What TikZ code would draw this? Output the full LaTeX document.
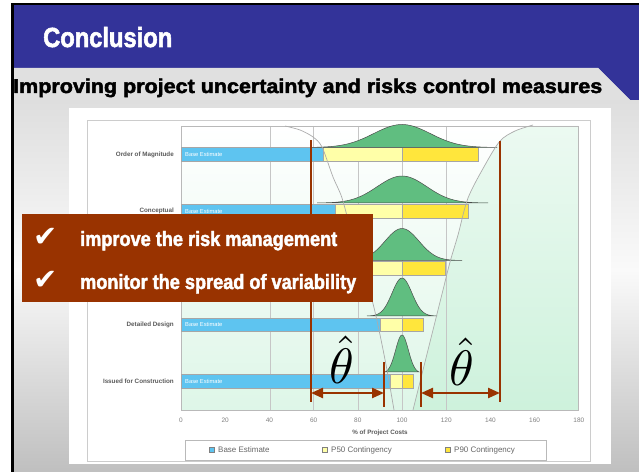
\documentclass[tikz,border=0pt]{standalone}
\usepackage{fontspec}
\setmainfont{Liberation Sans}
\newfontfamily\dejavu{DejaVu Sans}
\newfontfamily\heavy[BoldFeatures={FakeBold=2.2}]{Liberation Sans}
\usepackage{graphicx}
\usetikzlibrary{arrows.meta}
\definecolor{hdrblue}{RGB}{51,51,153}
\definecolor{rust}{RGB}{153,51,0}
\definecolor{barblue}{RGB}{94,196,240}
\definecolor{paley}{RGB}{255,255,168}
\definecolor{yel}{RGB}{255,230,60}
\definecolor{bellgreen}{RGB}{96,190,128}
\definecolor{mint}{RGB}{200,240,216}
\definecolor{lblgray}{RGB}{90,90,90}
\tikzset{
  bluebar/.style={fill=barblue, draw=gray!70, line width=0.4bp},
  p50bar/.style={fill=paley, draw=gray!70, line width=0.4bp},
  p90bar/.style={fill=yel, draw=gray!70, line width=0.4bp},
  bell/.style={fill=bellgreen, draw=gray!60!black, line width=0.5bp},
  funnel/.style={draw=gray!65, line width=0.7bp},
  gridln/.style={draw=gray!45, line width=0.5bp},
  catlbl/.style={anchor=east, inner sep=0, text=lblgray, font=\fontsize{6.3}{7}\selectfont\bfseries},
  barlbl/.style={anchor=west, inner sep=0, text=white, font=\fontsize{5.8}{7}\selectfont},
  ticklbl/.style={inner sep=0, text=gray, font=\fontsize{6.5}{7}\selectfont},
  leglbl/.style={anchor=west, inner sep=0, text=gray!80!black, font=\fontsize{8}{9}\selectfont},
  redln/.style={draw=rust, line width=2.3bp},
  redarrow/.style={draw=rust, line width=2.3bp, {Triangle[length=12bp,width=10bp]}-{Triangle[length=12bp,width=10bp]}},
  whitetxt/.style={anchor=base west, inner sep=0, text=white},
  checkmk/.style={text=white, inner sep=0, font=\dejavu\fontsize{29}{29}\selectfont},
}
\begin{document}
\begin{tikzpicture}[x=1bp,y=-1bp]
\useasboundingbox (0,0) rectangle (639,472);
% page background
\fill[white] (0,0) rectangle (639,472);
\shade[top color=gray!30, bottom color=gray!50, middle color=gray!4] (14,68) rectangle (639,472);
% header
\fill[hdrblue] (14,4) -- (639,4) -- (639,100) -- (630,100) -- (598,68) -- (14,68) -- cycle;
\fill[gray!24] (14,68) -- (598,68) -- (630,100) -- (14,100) -- cycle;
\draw[black, line width=3bp] (12.5,472) -- (12.5,4);
\draw[black, line width=2bp] (11,4) -- (639,4);
\node[whitetxt] (title) at (43,47) {\resizebox{129bp}{20bp}{\heavy\bfseries Conclusion}};
\node[anchor=base west, inner sep=0] (sub) at (13,93) {\resizebox{589bp}{14.5bp}{\heavy\bfseries Improving project uncertainty and risks control measures}};
% chart image
\fill[white] (69,108) rectangle (611,464);
\draw[gray!40, line width=0.8bp] (87,120) rectangle (590,461);
% plot area
\shade[top color=white, bottom color=mint!60] (181,126) rectangle (578,410);
\shade[top color=mint!35, bottom color=mint!90]
  plot[smooth] coordinates {(530,126) (515,131) (500,141) (485,165) (468,198) (458,235) (450,262) (443,290) (433,330) (423,370) (413,410)}
  -- (578,410) -- (578,126) -- cycle;
\foreach \gx in {270,313,358,402,446} \draw[gridln] (\gx,126) -- (\gx,410);
\draw[gray!55, line width=0.6bp] (181,126) rectangle (578,410);
% bars
\foreach \yc/\xb/\xe in {154.5/323/478, 211/335/468, 268/355/445, 324.5/380/423, 381/390/413} {
  \draw[bluebar] (181,\yc-6.8) rectangle (\xb,\yc+6.8);
  \draw[p50bar] (\xb,\yc-6.8) rectangle (402,\yc+6.8);
  \draw[p90bar] (402,\yc-6.8) rectangle (\xe,\yc+6.8);
}
\node[barlbl] (b1) at (185,154.5) {Base Estimate};
\node[barlbl] (b2) at (185,211) {Base Estimate};
\node[barlbl] (b4) at (185,324.5) {Base Estimate};
\node[barlbl] (b5) at (185,381) {Base Estimate};
% distributions
\draw[bell] plot[domain=-92:95, samples=70] ({402+\x},{147.5-23*exp(-(\x/40)^2)}) -- cycle;
\draw[bell] plot[domain=-85:86, samples=70] ({402+\x},{203-27*exp(-(\x/35)^2)}) -- cycle;
\draw[bell] plot[domain=-60:60, samples=60] ({402+\x},{260.5-32*exp(-(\x/24)^2)}) -- cycle;
\draw[bell] plot[domain=-35:35, samples=60] ({402+\x},{316-38*exp(-(\x/14)^2)}) -- cycle;
\draw[bell] plot[domain=-17:17, samples=50] ({402+\x},{373-38*exp(-(\x/9)^2)}) -- cycle;
% funnel
\draw[funnel] plot[smooth] coordinates {(285,126) (300,130) (313,137) (322,147) (333,177) (342,198) (352,235) (362,270) (372,300) (379,330) (387,370) (394,410)};
\draw[funnel] plot[smooth] coordinates {(533,125) (515,131) (500,141) (485,165) (468,198) (458,235) (450,262) (443,290) (433,330) (423,370) (413,410)};
% categories
\node[catlbl] (c1) at (174,154.5) {Order of Magnitude};
\node[catlbl] (c2) at (174,211) {Conceptual};
\node[catlbl] (c4) at (174,324.5) {Detailed Design};
\node[catlbl] (c5) at (174,381) {Issued for Construction};
% axis labels
\foreach \v in {0,20,...,180} \node[ticklbl] (t\v) at ({181+2.21*\v},420) {\v};
\node[ticklbl, text=lblgray, font=\fontsize{6.3}{7}\selectfont\bfseries] (xl) at (380,433) {\% of Project Costs};
% legend
\draw[gray!55, line width=0.6bp] (185,440) rectangle (546,460);
\draw[fill=barblue, draw=gray] (209.5,447.5) rectangle (214.5,452.5);
\node[leglbl] (lg1) at (218,450) {Base Estimate};
\draw[fill=paley, draw=gray] (322.5,447.5) rectangle (327.5,452.5);
\node[leglbl] (lg2) at (331,450) {P50 Contingency};
\draw[fill=yel, draw=gray] (445.5,447.5) rectangle (450.5,452.5);
\node[leglbl] (lg3) at (454,450) {P90 Contingency};
% red annotations
\coordinate (la) at (311,140); \coordinate (lb) at (311,402);
\coordinate (ra) at (500,141); \coordinate (rb) at (500,402);
\coordinate (ma) at (384,362); \coordinate (mb) at (384,407);
\coordinate (na) at (421,362); \coordinate (nb) at (421,407);
\coordinate (a1) at (311,393); \coordinate (a2) at (384,393);
\coordinate (a3) at (421,393); \coordinate (a4) at (500,393);
\draw[redln] (la) -- (lb);
\draw[redln] (ra) -- (rb);
\draw[redln] (ma) -- (mb);
\draw[redln] (na) -- (nb);
\draw[redarrow] (a1) -- (a2);
\draw[redarrow] (a3) -- (a4);
\node[inner sep=0] (th1) at (342,360) {\scalebox{5}{$\hat{\theta}$}};
\node[inner sep=0] (th2) at (462,362) {\scalebox{5}{$\hat{\theta}$}};
% text box
\node[fill=rust, anchor=north west, minimum width=351bp, minimum height=88bp, inner sep=0] (box) at (22,214) {};
\node[checkmk] (ck1) at (46,237) {✔};
\node[checkmk] (ck2) at (46,280) {✔};
\node[whitetxt] (l1) at (80,246) {\resizebox{257bp}{15bp}{\heavy\bfseries improve the risk management}};
\node[whitetxt] (l2) at (80,289) {\resizebox{276bp}{15bp}{\heavy\bfseries monitor the spread of variability}};
\end{tikzpicture}
\end{document}
